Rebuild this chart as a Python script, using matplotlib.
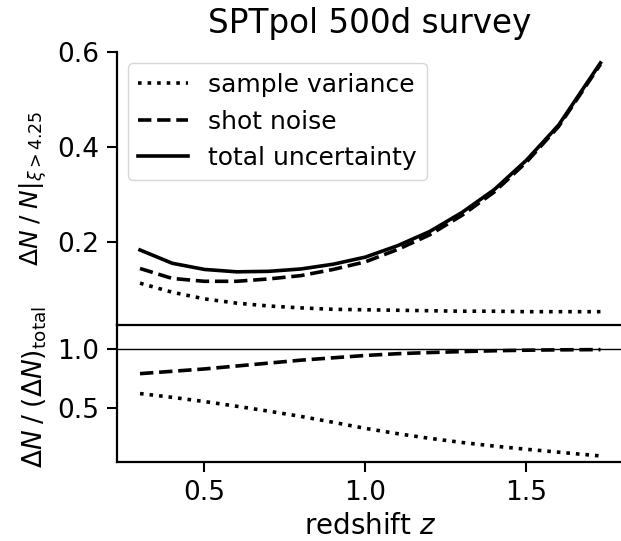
import matplotlib
matplotlib.use("Agg")
import matplotlib.pyplot as plt

# redshift grid
z = [0.3, 0.4, 0.5, 0.6, 0.7, 0.8, 0.9, 1.0, 1.1, 1.2, 1.3, 1.4, 1.5, 1.6, 1.73]

# fractional uncertainty dN/N (top panel)
sample_var = [0.113, 0.094, 0.080, 0.071, 0.065, 0.061, 0.058, 0.057,
              0.056, 0.055, 0.054, 0.054, 0.053, 0.053, 0.053]
shot_noise = [0.144, 0.123, 0.117, 0.117, 0.122, 0.129, 0.142, 0.158,
              0.184, 0.215, 0.256, 0.305, 0.368, 0.443, 0.574]
total_unc = [0.183, 0.155, 0.142, 0.137, 0.138, 0.143, 0.153, 0.168,
             0.192, 0.222, 0.262, 0.310, 0.372, 0.446, 0.577]

# relative contribution to total (bottom panel)
frac_sv = [0.620, 0.588, 0.552, 0.512, 0.470, 0.425, 0.375, 0.323,
           0.278, 0.238, 0.203, 0.172, 0.145, 0.120, 0.088]
frac_sn = [0.790, 0.810, 0.830, 0.855, 0.880, 0.905, 0.925, 0.945,
           0.960, 0.970, 0.978, 0.985, 0.990, 0.993, 0.995]


def main():
    fig = plt.figure(figsize=(6.21, 5.41), dpi=100)
    ax1 = fig.add_axes([0.1884, 0.3993, 0.8148, 0.5046])
    ax2 = fig.add_axes([0.1884, 0.1455, 0.8148, 0.2538], sharex=ax1)
    # keep the top panel's bottom spine on top of the lower panel
    ax1.set_zorder(3)
    ax1.patch.set_visible(False)

    lw = 2.6
    ax1.plot(z, sample_var, ls=":", color="k", lw=lw, label="sample variance")
    ax1.plot(z, shot_noise, ls="--", color="k", lw=lw, label="shot noise")
    ax1.plot(z, total_unc, ls="-", color="k", lw=lw, label="total uncertainty")

    ax2.axhline(1.0, color="k", lw=1.0)
    ax2.plot(z, frac_sv, ls=":", color="k", lw=lw)
    ax2.plot(z, frac_sn, ls="--", color="k", lw=lw)

    for ax in (ax1, ax2):
        ax.spines["top"].set_visible(False)
        ax.spines["right"].set_visible(False)
        for s in ("left", "bottom"):
            ax.spines[s].set_linewidth(1.6)
        ax.tick_params(labelsize=19, width=1.5, length=7, pad=6)

    ax1.set_xlim(0.2285, 1.80)
    ax1.set_ylim(0.025, 0.6)
    ax1.set_yticks([0.2, 0.4, 0.6])
    ax1.tick_params(axis="x", bottom=False, labelbottom=False)
    ax2.set_ylim(0.034, 1.205)
    ax2.set_yticks([0.5, 1.0])
    ax2.set_xticks([0.5, 1.0, 1.5])

    ax1.set_title("SPTpol 500d survey", fontsize=23.5, pad=14)
    ax1.set_ylabel(r"$\Delta N\;/\;N|_{\xi > 4.25}$", fontsize=18)
    ax2.set_ylabel(r"$\Delta N\;/\;(\Delta N)_\mathrm{total}$", fontsize=19)
    ax2.set_xlabel(r"redshift $z$", fontsize=20)
    ax1.yaxis.set_label_coords(-0.135, 0.50)
    ax2.yaxis.set_label_coords(-0.135, 0.55)

    ax1.legend(loc="upper left", fontsize=18, handlelength=2.0,
               borderaxespad=0.45, labelspacing=0.5)

    fig.savefig("out.png", dpi=100)


if __name__ == "__main__":
    main()
